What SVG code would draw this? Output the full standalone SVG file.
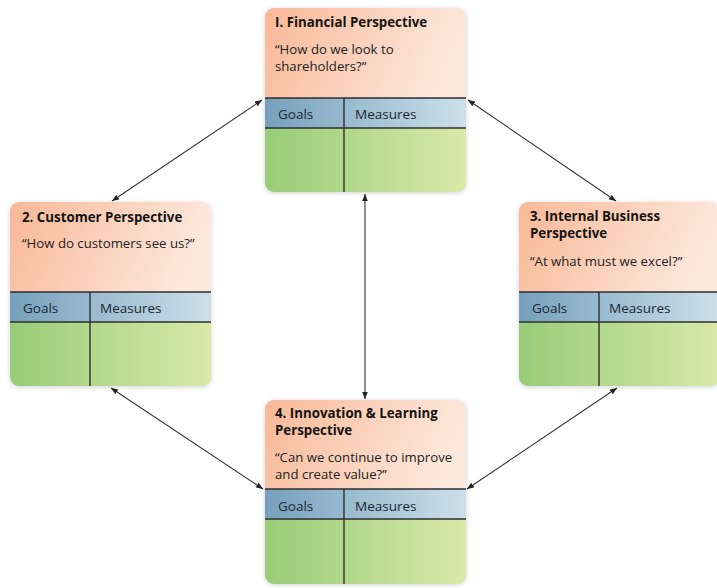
<svg xmlns="http://www.w3.org/2000/svg" width="717" height="588" viewBox="0 0 717 588">
  <defs>
    <linearGradient id="gOrange" x1="0" y1="0" x2="1" y2="0.2">
      <stop offset="0" stop-color="#f8b897"/>
      <stop offset="1" stop-color="#fde8dc"/>
    </linearGradient>
    <linearGradient id="gBlue" x1="0" y1="0" x2="1" y2="0">
      <stop offset="0" stop-color="#75a0bd"/>
      <stop offset="1" stop-color="#cde0ea"/>
    </linearGradient>
    <linearGradient id="gGreen" x1="0" y1="0" x2="1" y2="0">
      <stop offset="0" stop-color="#97cc78"/>
      <stop offset="1" stop-color="#d9e9a8"/>
    </linearGradient>
    <filter id="soft" x="-10%" y="-10%" width="120%" height="120%">
      <feGaussianBlur stdDeviation="2.5"/>
    </filter>
    <marker id="tip" viewBox="0 0 10 10" refX="10" refY="5" markerWidth="7" markerHeight="7" orient="auto-start-reverse" markerUnits="userSpaceOnUse">
      <path d="M0,1 L10,5 L0,9 Z" fill="#222"/>
    </marker>
    <!-- one perspective card: 201 x 184, header split at y=90, table header 30 high -->
    <clipPath id="card">
      <rect x="0" y="0" width="201" height="184" rx="9"/>
    </clipPath>
  </defs>
  <style>
    .shadow { fill: #000; opacity: 0.18; filter: url(#soft); }
    .head { fill: url(#gOrange); }
    .band { fill: url(#gBlue); }
    .body { fill: url(#gGreen); }
    .rule { stroke: #2e2e2e; stroke-width: 1.4; fill: none; }
    .title { font-family: "Open Sans", "Noto Sans", sans-serif; font-weight: bold; font-size: 13.3px; fill: #141414; }
    .quote { font-family: "Open Sans", "Noto Sans", sans-serif; font-size: 13.2px; fill: #222; }
    .col { font-family: "Open Sans", "Noto Sans", sans-serif; font-size: 13.5px; fill: #1c2730; }
    .link { stroke: #333; stroke-width: 1.1; fill: none; marker-start: url(#tip); marker-end: url(#tip); }
  </style>

  <!-- connectors -->
  <g id="connectors">
    <line class="link" x1="262" y1="100" x2="112" y2="201"/>
    <line class="link" x1="468" y1="100" x2="616" y2="201"/>
    <line class="link" x1="365" y1="194" x2="365" y2="399"/>
    <line class="link" x1="111" y1="388" x2="263" y2="489"/>
    <line class="link" x1="617" y1="388" x2="467" y2="489"/>
  </g>

  <!-- 1. Financial -->
  <g id="financial" transform="translate(265,8)">
    <rect class="shadow" x="0" y="1" width="201" height="184" rx="9"/>
    <g clip-path="url(#card)">
      <rect class="head" x="0" y="0" width="201" height="90"/>
      <rect class="band" x="0" y="90" width="201" height="30"/>
      <rect class="body" x="0" y="120" width="201" height="64"/>
    </g>
    <line class="rule" x1="0" y1="90" x2="201" y2="90"/>
    <line class="rule" x1="0" y1="120" x2="201" y2="120"/>
    <line class="rule" x1="79" y1="90" x2="79" y2="184"/>
    <text class="title" x="10" y="19">I. Financial Perspective</text>
    <text class="quote" x="10" y="46">“How do we look to</text>
    <text class="quote" x="10" y="63">shareholders?”</text>
    <text class="col" x="13" y="111">Goals</text>
    <text class="col" x="90" y="111">Measures</text>
  </g>

  <!-- 2. Customer -->
  <g id="customer" transform="translate(10,202)">
    <rect class="shadow" x="0" y="1" width="201" height="184" rx="9"/>
    <g clip-path="url(#card)">
      <rect class="head" x="0" y="0" width="201" height="90"/>
      <rect class="band" x="0" y="90" width="201" height="30"/>
      <rect class="body" x="0" y="120" width="201" height="64"/>
    </g>
    <line class="rule" x1="0" y1="90" x2="201" y2="90"/>
    <line class="rule" x1="0" y1="120" x2="201" y2="120"/>
    <line class="rule" x1="80" y1="90" x2="80" y2="184"/>
    <text class="title" x="12" y="20">2. Customer Perspective</text>
    <text class="quote" x="12" y="46">“How do customers see us?”</text>
    <text class="col" x="13" y="111">Goals</text>
    <text class="col" x="90" y="111">Measures</text>
  </g>

  <!-- 3. Internal Business -->
  <g id="internal" transform="translate(519,202)">
    <rect class="shadow" x="0" y="1" width="201" height="184" rx="9"/>
    <g clip-path="url(#card)">
      <rect class="head" x="0" y="0" width="201" height="90"/>
      <rect class="band" x="0" y="90" width="201" height="30"/>
      <rect class="body" x="0" y="120" width="201" height="64"/>
    </g>
    <line class="rule" x1="0" y1="90" x2="201" y2="90"/>
    <line class="rule" x1="0" y1="120" x2="201" y2="120"/>
    <line class="rule" x1="80" y1="90" x2="80" y2="184"/>
    <text class="title" x="11" y="19">3. Internal Business</text>
    <text class="title" x="11" y="36">Perspective</text>
    <text class="quote" x="11" y="64">“At what must we excel?”</text>
    <text class="col" x="13" y="111">Goals</text>
    <text class="col" x="90" y="111">Measures</text>
  </g>

  <!-- 4. Innovation & Learning -->
  <g id="innovation" transform="translate(265,400)">
    <rect class="shadow" x="0" y="1" width="201" height="184" rx="9"/>
    <g clip-path="url(#card)">
      <rect class="head" x="0" y="0" width="201" height="89"/>
      <rect class="band" x="0" y="89" width="201" height="30"/>
      <rect class="body" x="0" y="119" width="201" height="65"/>
    </g>
    <line class="rule" x1="0" y1="89" x2="201" y2="89"/>
    <line class="rule" x1="0" y1="119" x2="201" y2="119"/>
    <line class="rule" x1="79" y1="89" x2="79" y2="184"/>
    <text class="title" x="10" y="18">4. Innovation &amp; Learning</text>
    <text class="title" x="10" y="35">Perspective</text>
    <text class="quote" x="10" y="62">“Can we continue to improve</text>
    <text class="quote" x="10" y="79">and create value?”</text>
    <text class="col" x="13" y="111">Goals</text>
    <text class="col" x="90" y="111">Measures</text>
  </g>
</svg>
